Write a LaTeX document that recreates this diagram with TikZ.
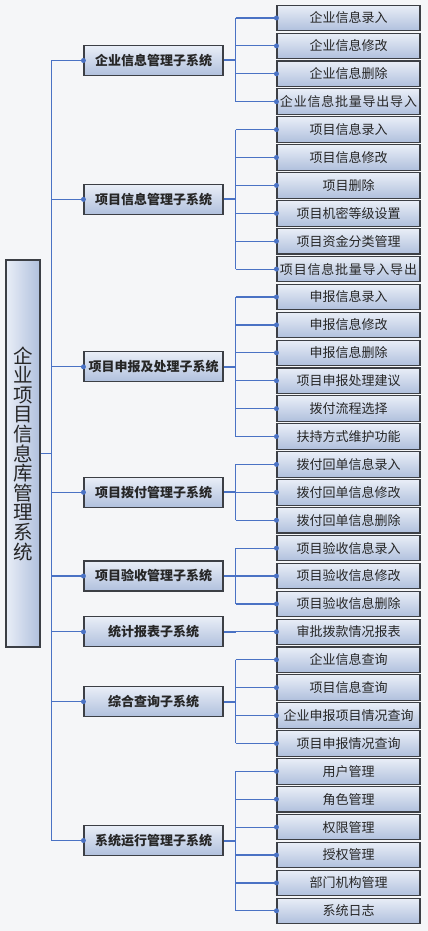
\documentclass[tikz,border=0pt]{standalone}
\usepackage{fontspec}
\newfontfamily\cjk{Noto Sans CJK SC}
\usetikzlibrary{positioning, calc}
\definecolor{linkblue}{HTML}{4A72C4}
\definecolor{boxtop}{HTML}{E9EEF7}
\definecolor{boxbot}{HTML}{B0C0DD}
\definecolor{boxline}{HTML}{3C3F45}
\definecolor{bgpaper}{HTML}{F5F6F8}
\newcommand\spaced[1]{{\addfontfeature{LetterSpace=6}#1}}

\tikzset{
    box/.style={draw=boxline, line width=1.1pt, top color=boxtop, bottom color=boxbot,
        inner sep=0pt, text=black!85, font=\cjk\fontsize{13}{15}\selectfont},
    leafbox/.style={box, minimum width=143pt, minimum height=25.5pt},
    midbox/.style={box, minimum width=139pt, minimum height=30pt,
        font=\cjk\bfseries\fontsize{13}{15}\selectfont},
    rootbox/.style={box, left color=boxtop, right color=boxbot, minimum width=34pt,
        minimum height=387pt, align=center, font=\cjk\fontsize{19.5}{19.6}\selectfont},
    link/.style={draw=linkblue, line width=1.2pt},
    stub/.style={link, line width=2pt},
    dot/.style={circle, fill=linkblue, inner sep=0pt, minimum size=5pt}
}

\begin{document}
\begin{tikzpicture}[x=1pt, y=-1pt]
    \fill[bgpaper] (0,0) rectangle (428,931);

    % leaves, one every 27.9
    \foreach \txt [count=\i from 0] in {企业信息录入, 企业信息修改, 企业信息删除, \spaced{企业信息批量导出导入},
        项目信息录入, 项目信息修改, 项目删除, 项目机密等级设置, 项目资金分类管理, \spaced{项目信息批量导入导出},
        申报信息录入, 申报信息修改, 申报信息删除, 项目申报处理建议, 拨付流程选择, 扶持方式维护功能,
        拨付回单信息录入, 拨付回单信息修改, 拨付回单信息删除,
        项目验收信息录入, 项目验收信息修改, 项目验收信息删除,
        审批拨款情况报表,
        企业信息查询, 项目信息查询, 企业申报项目情况查询, 项目申报情况查询,
        用户管理, 角色管理, 权限管理, 授权管理, 部门机构管理, 系统日志}
        \node[leafbox] (l\i) at (348.5, 18+27.9*\i) {\txt};

    % subsystems
    \node[midbox] (m1) at (153.5, 60.5) {企业信息管理子系统};
    \node[midbox] (m2) at (153.5, 199.4) {项目信息管理子系统};
    \node[midbox] (m3) at (153.5, 366.8) {项目申报及处理子系统};
    \node[midbox] (m4) at (153.5, 492.3) {项目拨付管理子系统};
    \node[midbox] (m5) at (153.5, 576) {项目验收管理子系统};
    \node[midbox] (m6) at (153.5, 631.8) {统计报表子系统};
    \node[midbox] (m7) at (153.5, 701.6) {综合查询子系统};
    \node[midbox] (m8) at (153.5, 840.5) {系统运行管理子系统};

    \node[rootbox] (root) at (23, 453.5) {企\\业\\项\\目\\信\\息\\库\\管\\理\\系\\统};

    % root to subsystems
    \draw[link] (root.east) -- ++(11,0) coordinate (rb);
    \draw[link] (rb |- m1.west) -- (rb |- m8.west);
    \foreach \m in {1,...,8}
        \draw[link] (rb |- m\m.west) -- (m\m.west) node[dot] {};

    % subsystems to leaves
    \foreach \m/\a/\b in {1/0/3, 2/4/9, 3/10/15, 4/16/18, 5/19/21, 6/22/22, 7/23/26, 8/27/32} {
        \draw[stub] (m\m.east) -- ++(12,0) coordinate (sb);
        \draw[link] (sb |- l\a.west) -- (sb |- l\b.west);
        \foreach \k in {\a,...,\b}
            \draw[link] (sb |- l\k.west) -- (l\k.west) node[dot] {};
    }
\end{tikzpicture}
\end{document}
